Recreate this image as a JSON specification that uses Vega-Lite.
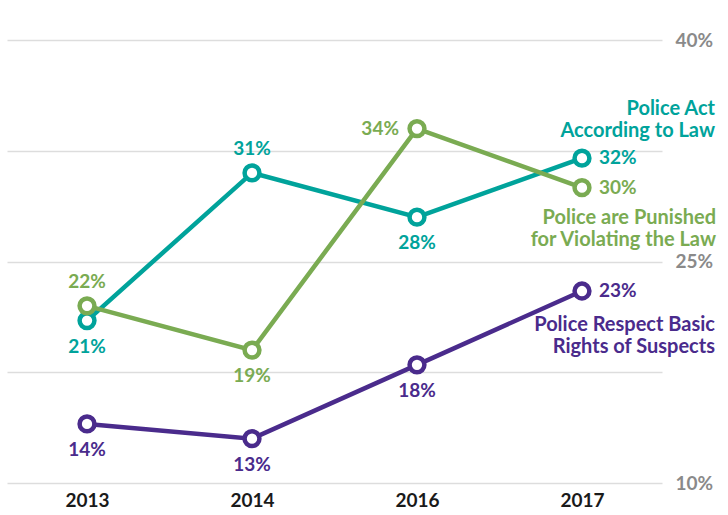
{
  "$schema": "https://vega.github.io/schema/vega-lite/v6.json",
  "width": 655,
  "height": 443,
  "autosize": {"type": "none"},
  "padding": {"left": 7, "top": 40, "right": 66, "bottom": 32},
  "background": "white",
  "config": {"view": {"stroke": null}, "font": "Lato"},
  "data": {"values": [
    {"year": "2013", "series": "Act", "value": 0.21},
    {"year": "2014", "series": "Act", "value": 0.31},
    {"year": "2016", "series": "Act", "value": 0.28},
    {"year": "2017", "series": "Act", "value": 0.32},
    {"year": "2013", "series": "Punished", "value": 0.22},
    {"year": "2014", "series": "Punished", "value": 0.19},
    {"year": "2016", "series": "Punished", "value": 0.34},
    {"year": "2017", "series": "Punished", "value": 0.30},
    {"year": "2013", "series": "Respect", "value": 0.14},
    {"year": "2014", "series": "Respect", "value": 0.13},
    {"year": "2016", "series": "Respect", "value": 0.18},
    {"year": "2017", "series": "Respect", "value": 0.23}
  ]},
  "encoding": {
    "x": {"field": "year", "type": "ordinal", "scale": {"type": "point", "padding": 0.485},
      "axis": {"title": null, "domain": false, "ticks": false, "labelAngle": 0, "labelFont": "Lato", "labelFontSize": 19, "labelFontWeight": "bold", "labelColor": "#1a1a1a", "labelPadding": 8}},
    "y": {"field": "value", "type": "quantitative", "scale": {"domain": [0.1, 0.4], "nice": false, "zero": false},
      "axis": {"title": null, "orient": "right", "domain": false, "ticks": false, "values": [0.1, 0.175, 0.25, 0.325, 0.4],
        "labelExpr": "(datum.value == 0.1 || datum.value == 0.25 || datum.value == 0.4) ? format(datum.value, '.0%') : ''",
        "labelFont": "Lato", "labelFontSize": 19, "labelFontWeight": "bold", "labelColor": "#8a8a8a", "labelPadding": 13,
        "gridColor": "#dddddd", "gridWidth": 1.5}},
    "color": {"field": "series", "type": "nominal", "scale": {"domain": ["Act", "Punished", "Respect"], "range": ["#00A39B", "#7AAB52", "#4A2B8C"]}, "legend": null}
  },
  "layer": [
    {"mark": {"type": "line", "strokeWidth": 4.5}},
    {"mark": {"type": "point", "shape": "circle", "filled": true, "fill": "white", "size": 220, "strokeWidth": 4.5, "opacity": 1},
      "encoding": {"stroke": {"field": "series", "type": "nominal", "scale": {"domain": ["Act", "Punished", "Respect"], "range": ["#00A39B", "#7AAB52", "#4A2B8C"]}, "legend": null}, "color": null}},
    {"transform": [{"filter": "(datum.year == '2013' && datum.series == 'Punished') || (datum.year == '2014' && datum.series == 'Act')"}],
      "mark": {"type": "text", "dy": -24, "fontSize": 19, "fontWeight": "bold", "baseline": "middle"},
      "encoding": {"text": {"field": "value", "type": "quantitative", "format": ".0%"}}},
    {"transform": [{"filter": "datum.year != '2017' && !((datum.year == '2013' && datum.series == 'Punished') || (datum.year == '2014' && datum.series == 'Act') || (datum.year == '2016' && datum.series == 'Punished'))"}],
      "mark": {"type": "text", "dy": 26, "fontSize": 19, "fontWeight": "bold", "baseline": "middle"},
      "encoding": {"text": {"field": "value", "type": "quantitative", "format": ".0%"}}},
    {"transform": [{"filter": "datum.year == '2016' && datum.series == 'Punished'"}],
      "mark": {"type": "text", "dx": -18, "dy": 0, "align": "right", "fontSize": 19, "fontWeight": "bold", "baseline": "middle"},
      "encoding": {"text": {"field": "value", "type": "quantitative", "format": ".0%"}}},
    {"transform": [{"filter": "datum.year == '2017'"}],
      "mark": {"type": "text", "dx": 17, "align": "left", "fontSize": 19, "fontWeight": "bold", "baseline": "middle"},
      "encoding": {"text": {"field": "value", "type": "quantitative", "format": ".0%"}}},
    {"transform": [{"filter": "datum.year == '2017' && datum.series == 'Act'"}],
      "mark": {"type": "text", "text": ["Police Act", "According to Law"], "align": "right", "baseline": "top", "dx": 133, "dy": -59, "fontSize": 20, "fontWeight": "bold", "lineHeight": 22}},
    {"transform": [{"filter": "datum.year == '2017' && datum.series == 'Punished'"}],
      "mark": {"type": "text", "text": ["Police are Punished", "for Violating the Law"], "align": "right", "baseline": "top", "dx": 134, "dy": 20, "fontSize": 20, "fontWeight": "bold", "lineHeight": 22}},
    {"transform": [{"filter": "datum.year == '2017' && datum.series == 'Respect'"}],
      "mark": {"type": "text", "text": ["Police Respect Basic", "Rights of Suspects"], "align": "right", "baseline": "top", "dx": 133, "dy": 24, "fontSize": 20, "fontWeight": "bold", "lineHeight": 22}}
  ]
}
